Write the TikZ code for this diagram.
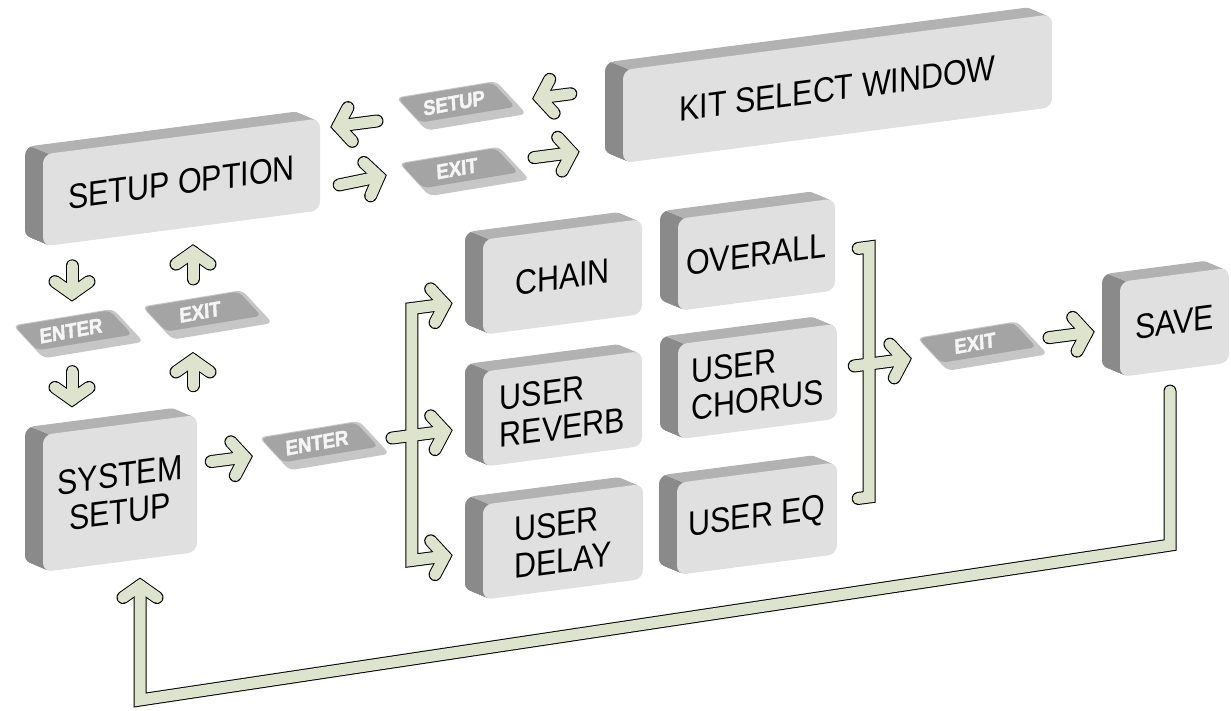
\documentclass[tikz,border=0pt]{standalone}
\usepackage{fontspec}
\setmainfont{Liberation Sans}
\newfontfamily\boxfont[FakeStretch=0.87]{Liberation Sans}
\newfontfamily\keyfont[FakeStretch=0.88, FakeBold=2]{Liberation Sans Bold}
\usetikzlibrary{calc}
\usepackage{xcolor}
\definecolor{arrowfill}{RGB}{222,227,206}
\definecolor{face}{RGB}{224,224,224}
\definecolor{sidetop}{RGB}{178,178,178}
\definecolor{sidedark}{RGB}{138,138,138}
\definecolor{keytop}{RGB}{164,164,164}
\definecolor{keylip}{RGB}{198,198,198}

% chevron head of the fat connectors
\pgfarrowsdeclare{chev}{chev}
{\pgfarrowsleftextend{-12pt}\pgfarrowsrightextend{0pt}}
{
  \pgfsetdash{}{0pt}
  \pgfsetroundcap
  \pgfsetmiterjoin
  \pgfpathmoveto{\pgfpoint{-12pt}{17pt}}
  \pgfpathlineto{\pgfpointorigin}
  \pgfpathlineto{\pgfpoint{-12pt}{-17pt}}
  \pgfusepathqstroke
}

% raised panel: [align] name, centre, width, height, label
\newcommand\raisedpanel[6][center]{%
  \begin{scope}[shift={#3}]
    \foreach \k in {18,17,...,1}
      \fill[sidetop, rounded corners=9] (-#4/2-\k,-#5/2-0.55*\k) rectangle (#4/2-\k,#5/2-0.55*\k);
    \begin{scope}
      \clip (-#4/2-32,-#5/2-20) -- (-#4/2+4,-#5/2) -- (-#4/2+4,#5/2+5) -- (-#4/2-40,#5/2+5) -- (-#4/2-40,-#5/2-20) -- cycle;
      \foreach \k in {18,17,...,1}
        \fill[sidedark, rounded corners=9] (-#4/2-\k,-#5/2-0.55*\k) rectangle (#4/2-\k,#5/2-0.55*\k);
    \end{scope}
  \end{scope}
  \node[panel, align=#1, minimum width=#4, minimum height=#5] (#2) at #3 {#6};
}

% key cap: name, label position, label
\newcommand\keycap[3]{%
  \begin{scope}[shift={#2}, rotate=2, xslant=-0.77]
    \fill[keylip, rounded corners=6] (-46,-15) rectangle (54,23);
    \fill[keytop, rounded corners=5] (-45,-14) rectangle (50,14);
  \end{scope}
  \node[keylabel] (#1) at #2 {#3};
}

\begin{document}
\begin{tikzpicture}[
    x=1pt, y=-1pt,
    panel/.style={
        rectangle,
        rounded corners=9,
        fill=face,
        inner sep=0pt,
        transform shape,
        font={\boxfont\fontsize{35}{37}\selectfont}
    },
    keylabel/.style={
        text=white!96!black,
        inner sep=0pt,
        transform shape,
        rotate=3,
        font={\keyfont\fontsize{21}{21}\selectfont}
    },
    fatline/.style={draw=black, line width=13pt, line cap=round},
    fatfill/.style={draw=arrowfill, line width=11pt, line cap=round}
]
\useasboundingbox[fill=white] (0,0) rectangle (1231,711);

\begin{scope}[yslant=0.13]

% Panels
\raisedpanel{so}{(181.5,206)}{277}{92}{SETUP OPTION}
\raisedpanel{ksw}{(837.5,197.5)}{429}{93}{KIT SELECT WINDOW}
\raisedpanel{ss}{(120,509)}{154}{137}{SYSTEM\\SETUP}
\raisedpanel{chain}{(562.5,350)}{159}{95}{CHAIN}
\raisedpanel{overall}{(756.5,353)}{157}{92}{OVERALL}
\raisedpanel[left]{reverb}{(562.5,482)}{159}{95}{USER\\REVERB}
\raisedpanel[left]{chorus}{(757.5,480)}{159}{95}{USER\\CHORUS}
\raisedpanel[left]{delay}{(563,615)}{160}{95}{USER\\DELAY}
\raisedpanel{eq}{(757,617)}{160}{92}{USER EQ}
\raisedpanel{save}{(1174.5,475)}{109}{95}{SAVE}

% Keys
\keycap{enterL}{(71,340)}{ENTER}
\keycap{exitL}{(200,338)}{EXIT}
\keycap{setupKey}{(454,162)}{SETUP}
\keycap{exitTop}{(457,228)}{EXIT}
\keycap{enterMid}{(317,484)}{ENTER}
\keycap{exitRight}{(975,470)}{EXIT}

% Connectors: outline first, then the fill
\foreach \lay in {fatline,fatfill} {
  \draw[\lay, -chev] ($(so.south)+(-109.5,23)$) -- ($(enterL)+(1,-37)$);
  \draw[\lay, -chev] ($(enterL)+(1,41)$) -- ($(ss.north)+(-48,-31.5)$);
  \draw[\lay, -chev] ($(exitL)+(-7,-34)$) -- ($(so.south)+(11.5,25)$);
  \draw[\lay, -chev] ($(ss.north)+(73,-29.5)$) -- ($(exitL)+(-7,47)$);
  \draw[\lay, -chev] ($(ksw.west)+(-52,-29.5)$) -- ($(setupKey)+(86,6)$);
  \draw[\lay, -chev] ($(setupKey)+(-77,8)$) -- ($(so.east)+(18,-36)$);
  \draw[\lay, -chev] ($(so.east)+(19,23)$) -- ($(exitTop)+(-78,-2)$);
  \draw[\lay, -chev] ($(exitTop)+(77,-1)$) -- ($(ksw.west)+(-51,29.5)$);
  \draw[\lay, -chev] ($(ss.east)+(14,-20)$) -- ($(enterMid)+(-72,5)$);
  \draw[\lay, chev-chev] ($(chain.west)+(-38,12)$) -- ++(-33,0) -- ++(0,252) -- ++(33,0);
  \draw[\lay, -chev] ($(enterMid)+(75,5)$) -- ($(reverb.west)+(-38,7)$);
  \draw[\lay] ($(overall.east)+(23,7)$) -- ++(11,0) -- ++(0,250) -- ++(-11,0);
  \draw[\lay, -chev] ($(chorus.east)+(17,-3)$) -- ($(exitRight)+(-71,7)$);
  \draw[\lay, -chev] ($(exitRight)+(74,4)$) -- ($(save.west)+(-33,-1)$);
  \draw[\lay, -chev] ($(save.south)+(-4.5,20.5)$) -- ++(0,154) -- ++(-1030,21) -- ($(ss.south)+(20,26)$);
}

\end{scope}
\end{tikzpicture}
\end{document}
